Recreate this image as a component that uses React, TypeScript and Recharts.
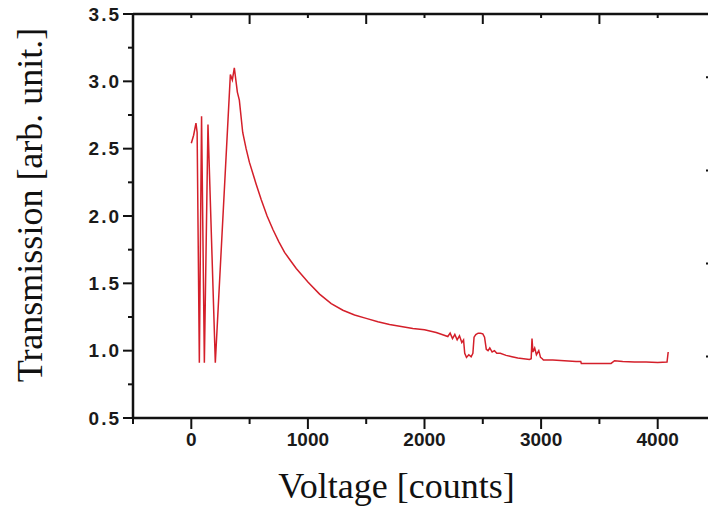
import { LineChart, Line, XAxis, YAxis } from "recharts";

// Voltage (counts) and transmission
const voltage = [
  0, 20, 40, 50, 69, 88, 112, 143, 206, 335, 352, 369, 395, 412, 441, 470, 498,
  555, 600, 650, 700, 750, 800, 850, 900, 950, 1000, 1100, 1200, 1300, 1400,
  1500, 1600, 1700, 1800, 1900, 2000, 2100, 2150, 2200, 2220, 2240, 2260, 2280,
  2300, 2320, 2335, 2345, 2360, 2380, 2400, 2415, 2425, 2440, 2460, 2480, 2500,
  2515, 2530, 2545, 2560, 2580, 2600, 2620, 2650, 2700, 2750, 2800, 2850, 2900,
  2915, 2922, 2930, 2945, 2960, 2980, 2995, 3010, 3020, 3100, 3200, 3300, 3340,
  3345, 3450, 3550, 3600, 3630, 3700, 3800, 3900, 4000, 4080, 4090,
];
const transmission = [
  2.54, 2.6, 2.69, 2.62, 0.91, 2.74, 0.91, 2.68, 0.91, 3.05, 3.01, 3.1, 2.92,
  2.86, 2.62, 2.5, 2.4, 2.24, 2.12, 2.0, 1.9, 1.81, 1.73, 1.67, 1.61, 1.56,
  1.51, 1.42, 1.35, 1.3, 1.265, 1.24, 1.215, 1.195, 1.18, 1.165, 1.155, 1.135,
  1.12, 1.105, 1.13, 1.09, 1.12, 1.08, 1.11, 1.06, 1.08, 0.98, 0.95, 0.97,
  0.955, 0.98, 1.1, 1.12, 1.13, 1.13, 1.125, 1.1, 1.01, 1.0, 1.02, 0.99, 1.0,
  0.98, 0.98, 0.965, 0.955, 0.945, 0.94, 0.935, 0.94, 1.09, 0.99, 1.02, 0.97,
  1.0, 0.95, 0.94, 0.93, 0.93, 0.925, 0.92, 0.92, 0.905, 0.905, 0.905, 0.905,
  0.925, 0.92, 0.915, 0.915, 0.913, 0.915, 0.99,
];

const xTicks = [-500, 0, 500, 1000, 1500, 2000, 2500, 3000, 3500, 4000, 4500];
const yTicks = [0.5, 0.75, 1, 1.25, 1.5, 1.75, 2, 2.25, 2.5, 2.75, 3, 3.25, 3.5];
const rightTicks = [1, 2, 3, 4];

const data = voltage.map((v, i) => ({ v, t: transmission[i] }));

const AXIS = "#111";
const tickFont = {
  fontFamily: "'Liberation Sans', Arial, sans-serif",
  fontWeight: 700,
  fontSize: 19,
  fill: "#1a1a1a",
};
const titleFont = {
  fontFamily: "'Liberation Serif', 'Times New Roman', serif",
  fontSize: 36,
  fill: "#111",
};

function LeftTick({ x, y, payload }: any) {
  const major = Math.abs(payload.value * 2 - Math.round(payload.value * 2)) < 1e-6;
  return (
    <g>
      <line x1={x - (major ? 10 : 5)} x2={x} y1={y} y2={y} stroke={AXIS} strokeWidth={2} />
      {major && (
        <text
          x={x - 12}
          y={y}
          textAnchor="end"
          dominantBaseline="central"
          letterSpacing={2}
          {...tickFont}
        >
          {payload.value.toFixed(1)}
        </text>
      )}
    </g>
  );
}

function BottomTick({ x, y, payload }: any) {
  const major = payload.value % 1000 === 0;
  const show = payload.value >= 0 && payload.value <= 4000 && major;
  return (
    <g>
      <line x1={x} x2={x} y1={y} y2={y + (major ? 11 : 6)} stroke={AXIS} strokeWidth={2} />
      {show && (
        <text x={x} y={y + 21} textAnchor="middle" dominantBaseline="central" {...tickFont}>
          {payload.value}
        </text>
      )}
    </g>
  );
}

function TopTick({ x, y, payload }: any) {
  const major = payload.value % 1000 === 0;
  return <line x1={x} x2={x} y1={y} y2={y + (major ? 4 : 10)} stroke={AXIS} strokeWidth={2} />;
}

function RightTick({ x, y }: any) {
  return <line x1={x - 10} x2={x} y1={y} y2={y} stroke={AXIS} strokeWidth={2} />;
}

export default function App() {
  return (
    <div
      style={{
        position: "absolute",
        left: 0,
        top: 0,
        width: 708,
        height: 516,
        overflow: "hidden",
        background: "#fff",
      }}
    >
      <LineChart width={730} height={516} data={data} margin={{ top: 0, right: 0, left: 0, bottom: 0 }}>
        <XAxis
          xAxisId="top"
          orientation="top"
          type="number"
          dataKey="v"
          domain={[-500, 4500]}
          ticks={xTicks}
          interval={0}
          height={14}
          tickSize={0}
          tickMargin={0}
          tickLine={false}
          tick={<TopTick />}
          axisLine={{ stroke: AXIS, strokeWidth: 2.5 }}
          allowDataOverflow
        />
        <XAxis
          xAxisId="bottom"
          type="number"
          dataKey="v"
          domain={[-500, 4500]}
          ticks={xTicks}
          interval={0}
          height={98}
          tickSize={0}
          tickMargin={0}
          tickLine={false}
          tick={<BottomTick />}
          axisLine={{ stroke: AXIS, strokeWidth: 2.5 }}
          allowDataOverflow
          label={{
            content: ({ viewBox }: any) => (
              <text
                x={viewBox.x + viewBox.width / 2 - 28}
                y={viewBox.y + 80}
                textAnchor="middle"
                {...titleFont}
              >
                Voltage [counts]
              </text>
            ),
          }}
        />
        <YAxis
          yAxisId="left"
          type="number"
          domain={[0.5, 3.5]}
          ticks={yTicks}
          interval={0}
          width={133}
          tickSize={0}
          tickMargin={0}
          tickLine={false}
          tick={<LeftTick />}
          axisLine={{ stroke: AXIS, strokeWidth: 2.5 }}
          allowDataOverflow
          label={{
            content: ({ viewBox }: any) => {
              const cx = 30;
              const cy = viewBox.y + viewBox.height / 2 - 11;
              return (
                <text
                  x={cx}
                  y={cy}
                  transform={`rotate(-90 ${cx} ${cy})`}
                  textAnchor="middle"
                  dominantBaseline="central"
                  {...titleFont}
                >
                  Transmission [arb. unit.]
                </text>
              );
            },
          }}
        />
        <YAxis
          yAxisId="right"
          orientation="right"
          type="number"
          domain={[0.34, 4.68]}
          ticks={rightTicks}
          interval={0}
          width={14}
          tickSize={0}
          tickMargin={0}
          tickLine={false}
          tick={<RightTick />}
          axisLine={{ stroke: AXIS, strokeWidth: 2.5 }}
          allowDataOverflow
        />
        <Line
          xAxisId="bottom"
          yAxisId="left"
          type="linear"
          dataKey="t"
          stroke="#d41f2a"
          strokeWidth={1.5}
          dot={false}
          isAnimationActive={false}
        />
      </LineChart>
    </div>
  );
}
